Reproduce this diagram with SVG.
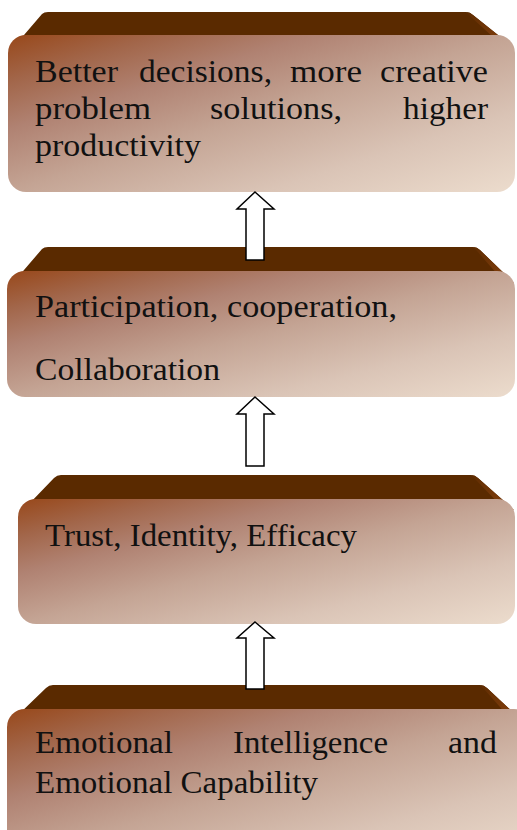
<svg xmlns="http://www.w3.org/2000/svg" width="517" height="830" viewBox="0 0 517 830">
<defs>
<linearGradient id="face" x1="0" y1="0" x2="1" y2="1">
<stop offset="0" stop-color="#98481a"/>
<stop offset="0.15" stop-color="#a2664a"/>
<stop offset="0.3" stop-color="#b08272"/>
<stop offset="0.5" stop-color="#c4a494"/>
<stop offset="0.75" stop-color="#dac4b6"/>
<stop offset="1" stop-color="#ecdccd"/>
</linearGradient>
<linearGradient id="side" x1="0" y1="0" x2="1" y2="1">
<stop offset="0" stop-color="#5e2c02"/>
<stop offset="1" stop-color="#8a420e"/>
</linearGradient>
</defs>
<style>
.band{fill:#5a2a00}
.side{fill:url(#side)}
.face{fill:url(#face)}
.t{font-family:"Liberation Serif","DejaVu Serif",serif;font-size:31px;fill:#111}
.arrow{fill:#fff;stroke:#000;stroke-width:1.5;stroke-linejoin:miter}
</style>
<rect width="517" height="830" fill="#fff"/>

<g id="node-outcomes">
<path class="band" d="M18,42 L42,14 Q44,12 48,12 L466,12 Q470,12 473,15 L512,46 L512,70 L18,70 Z"/>
<path class="side" d="M466,12 Q470,12 473,15 L514,48 L505,48 L470,16 Z"/>
<rect class="face" x="8" y="35" width="507" height="157" rx="18"/>
<text class="t" x="35" y="82" textLength="83" lengthAdjust="spacingAndGlyphs">Better</text>
<text class="t" x="139" y="82" textLength="133" lengthAdjust="spacingAndGlyphs">decisions,</text>
<text class="t" x="290" y="82" textLength="72" lengthAdjust="spacingAndGlyphs">more</text>
<text class="t" x="380" y="82" textLength="108" lengthAdjust="spacingAndGlyphs">creative</text>
<text class="t" x="35" y="119" textLength="116" lengthAdjust="spacingAndGlyphs">problem</text>
<text class="t" x="210" y="119" textLength="132" lengthAdjust="spacingAndGlyphs">solutions,</text>
<text class="t" x="403" y="119" textLength="85" lengthAdjust="spacingAndGlyphs">higher</text>
<text class="t" x="35" y="156" textLength="166" lengthAdjust="spacingAndGlyphs">productivity</text>
</g>

<g id="node-participation">
<path class="band" d="M18,277 L42,249 Q44,247 48,247 L473,247 Q477,247 480,250 L512,281 L512,300 L18,300 Z"/>
<path class="side" d="M473,247 Q477,247 480,250 L514,283 L505,283 L477,251 Z"/>
<rect class="face" x="7" y="271" width="508" height="126" rx="18"/>
<text class="t" x="35" y="317" textLength="362" lengthAdjust="spacingAndGlyphs">Participation, cooperation,</text>
<text class="t" x="35" y="380" textLength="185" lengthAdjust="spacingAndGlyphs">Collaboration</text>
</g>

<g id="node-trust">
<path class="band" d="M28,505 L54,478 Q57,475 61,475 L471,475 Q475,475 478,478 L512,508 L512,530 L28,530 Z"/>
<path class="side" d="M471,475 Q475,475 478,478 L514,510 L505,510 L475,479 Z"/>
<rect class="face" x="18" y="499" width="497" height="125" rx="18"/>
<text class="t" x="45" y="546" textLength="312" lengthAdjust="spacingAndGlyphs">Trust, Identity, Efficacy</text>
</g>

<g id="node-emotional">
<path class="band" d="M18,715 L46,688 Q49,685 53,685 L480,685 Q484,685 487,688 L517,716 L517,740 L18,740 Z"/>
<path class="side" d="M480,685 Q484,685 487,688 L517,716 L517,722 L508,716 L484,689 Z"/>
<rect class="face" x="7" y="709" width="525" height="150" rx="18"/>
<text class="t" x="35" y="753" textLength="138" lengthAdjust="spacingAndGlyphs">Emotional</text>
<text class="t" x="233" y="753" textLength="155" lengthAdjust="spacingAndGlyphs">Intelligence</text>
<text class="t" x="448" y="753" textLength="49" lengthAdjust="spacingAndGlyphs">and</text>
<text class="t" x="35" y="793" textLength="283" lengthAdjust="spacingAndGlyphs">Emotional Capability</text>
</g>

<g id="connectors">
<path class="arrow" d="M255,192 L274,209 L264,209 L264,260 L246,260 L246,209 L237,209 Z"/>
<path class="arrow" d="M255,397 L274,414 L264,414 L264,466 L246,466 L246,414 L237,414 Z"/>
<path class="arrow" d="M255,622 L274,638 L264,638 L264,689 L246,689 L246,638 L237,638 Z"/>
</g>
</svg>
